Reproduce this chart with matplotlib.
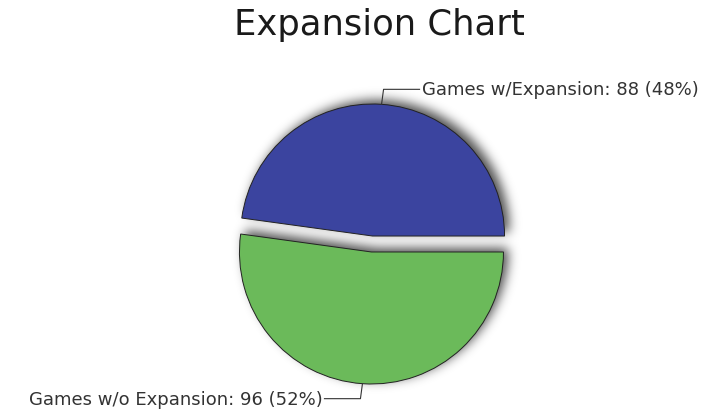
import numpy as np
import matplotlib
matplotlib.use('Agg')
import matplotlib.pyplot as plt

categories = ['Games w/Expansion', 'Games w/o Expansion']
counts = [88, 96]
colors = ['#3b449f', '#6bba5a']
title = 'Expansion Chart'

W, H = 714, 410
fig = plt.figure(figsize=(W / 100, H / 100), dpi=100)
ax = fig.add_axes([0, 0, 1, 1])

cx, cy, R = 372, 165, 132
wedges, _ = ax.pie(counts, colors=colors, startangle=0, counterclock=True,
                   explode=[8, 8], center=(cx, cy), radius=R,
                   wedgeprops=dict(edgecolor='#222222', linewidth=0.7),
                   frame=True)
for w in wedges:
    w.set_zorder(3)
ax.set_xlim(0, W)
ax.set_ylim(0, H)
ax.set_aspect('equal')
ax.axis('off')

# blurred drop shadow (offset up-right)
xs = np.arange(W) + 0.5
ys = H - (np.arange(H) + 0.5)
X, Y = np.meshgrid(xs, ys)
mask = np.zeros((H, W))
sdx, sdy = 5, 4
for w in wedges:
    wx, wy = w.center
    wx += sdx
    wy += sdy
    d = np.hypot(X - wx, Y - wy)
    ang = np.degrees(np.arctan2(Y - wy, X - wx)) % 360
    t1, t2 = w.theta1 % 360, w.theta2
    if t2 > 360:
        inside_ang = (ang >= t1) | (ang <= t2 - 360)
    else:
        inside_ang = (ang >= t1) & (ang <= t2)
    mask[(d <= w.r) & inside_ang] = 1.0

sigma = 5.5
k = np.arange(-18, 19)
kern = np.exp(-k ** 2 / (2 * sigma ** 2))
kern /= kern.sum()
blur = np.apply_along_axis(lambda m: np.convolve(m, kern, mode='same'), 1, mask)
blur = np.apply_along_axis(lambda m: np.convolve(m, kern, mode='same'), 0, blur)
rgba = np.zeros((H, W, 4))
rgba[..., 3] = blur * 0.7
ax.imshow(rgba, extent=(0, W, 0, H), origin='upper', zorder=1, interpolation='bilinear')

# labels with leader lines
total = sum(counts)
for w, lab, v in zip(wedges, categories, counts):
    mid = np.radians((w.theta1 + w.theta2) / 2)
    px = w.center[0] + w.r * np.cos(mid)
    py = w.center[1] + w.r * np.sin(mid)
    sv = np.sign(np.sin(mid))
    sh = np.sign(np.cos(mid))
    qx, qy = px + 2 * sh, py + 15 * sv
    ex = qx + 36 * sh
    ax.plot([px, qx, ex], [py, qy, qy], color='#333333', lw=0.8, zorder=4)
    txt = f'{lab}: {v} ({v / total * 100:.0f}%)'
    ax.text(ex + 2 * sh, qy, txt, ha='left' if sh > 0 else 'right', va='center',
            fontsize=13, color='#333333', zorder=5)

fig.text(379 / W, 1 - 25 / H, title, ha='center', va='center', fontsize=25.5, color='#1a1a1a')

fig.savefig('out.png', dpi=100)
